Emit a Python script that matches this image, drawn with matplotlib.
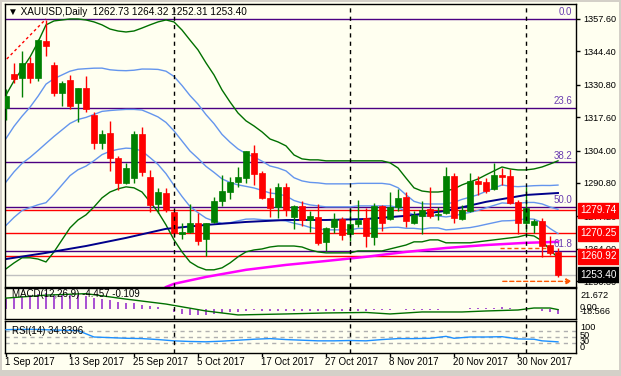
import numpy as np
import matplotlib.pyplot as plt
from matplotlib.patches import Rectangle

plt.rcParams['font.family'] = ['Liberation Sans', 'DejaVu Sans']

# daily XAUUSD bars, 1 Sep 2017 .. 7 Dec 2017
opens = [1321.3, 1335.2, 1333.6, 1339.7, 1333.6, 1348.6, 1338.9, 1327.5, 1332.7, 1323.4,
         1329.5, 1318.5, 1307.1, 1311.2, 1301.0, 1290.8, 1292.8, 1310.8, 1293.2, 1282.2,
         1286.7, 1279.0, 1270.0, 1270.8, 1274.5, 1268.0, 1274.9, 1283.5, 1287.1, 1291.2,
         1292.8, 1303.0, 1294.9, 1284.7, 1281.0, 1289.2, 1277.0, 1281.4, 1275.7, 1277.0,
         1266.8, 1272.9, 1276.1, 1270.0, 1274.1, 1276.5, 1268.8, 1281.4, 1276.1, 1281.0,
         1285.1, 1274.5, 1277.4, 1280.2, 1277.8, 1278.6, 1293.6, 1276.1, 1279.4, 1291.6,
         1291.2, 1288.4, 1294.1, 1293.6, 1283.1, 1274.5, 1273.7, 1275.3, 1265.5, 1262.73]
highs = [1329.1, 1339.7, 1344.6, 1342.1, 1349.5, 1357.2, 1340.1, 1332.3, 1334.8, 1329.5,
         1334.4, 1319.7, 1312.4, 1316.1, 1301.8, 1298.9, 1312.0, 1313.6, 1296.1, 1288.8,
         1288.8, 1279.0, 1274.5, 1282.2, 1278.6, 1274.5, 1285.1, 1294.1, 1293.2, 1297.3,
         1304.0, 1306.3, 1295.7, 1288.8, 1290.8, 1290.8, 1281.8, 1283.5, 1279.4, 1282.2,
         1272.9, 1278.6, 1277.0, 1280.6, 1283.9, 1280.6, 1282.6, 1281.8, 1287.1, 1288.4,
         1287.1, 1279.4, 1283.5, 1289.2, 1281.0, 1297.3, 1294.9, 1281.8, 1294.9, 1293.6,
         1292.8, 1298.9, 1296.9, 1296.5, 1283.9, 1289.2, 1276.1, 1276.5, 1269.2, 1264.32]
lows = [1316.5, 1331.5, 1325.8, 1331.5, 1332.3, 1342.5, 1326.2, 1322.2, 1320.9, 1315.6,
        1319.7, 1304.6, 1304.6, 1295.7, 1288.0, 1290.4, 1290.8, 1293.6, 1279.0, 1278.6,
        1279.0, 1268.8, 1268.0, 1270.4, 1265.5, 1260.9, 1274.5, 1281.4, 1284.3, 1289.2,
        1290.8, 1290.0, 1284.3, 1276.9, 1276.5, 1277.4, 1272.1, 1273.3, 1270.8, 1265.5,
        1263.1, 1270.4, 1267.6, 1267.2, 1272.9, 1264.7, 1265.5, 1271.2, 1275.7, 1279.4,
        1272.9, 1274.1, 1270.0, 1276.5, 1275.7, 1278.2, 1274.5, 1275.7, 1279.0, 1285.9,
        1286.7, 1288.0, 1290.0, 1282.2, 1270.0, 1270.8, 1270.4, 1260.7, 1261.5, 1252.31]
closes = [1326.2, 1333.2, 1339.7, 1333.6, 1349.0, 1346.6, 1327.5, 1331.5, 1322.2, 1329.5,
          1320.9, 1307.1, 1310.8, 1301.0, 1290.8, 1296.9, 1310.8, 1295.3, 1281.8, 1287.1,
          1279.8, 1270.4, 1270.8, 1274.5, 1267.2, 1274.5, 1283.5, 1287.5, 1291.2, 1293.2,
          1303.8, 1294.5, 1284.7, 1280.6, 1289.2, 1279.8, 1281.4, 1275.7, 1277.4, 1266.4,
          1272.5, 1276.1, 1269.6, 1274.1, 1275.7, 1269.2, 1281.4, 1274.5, 1281.0, 1284.7,
          1275.3, 1277.8, 1279.8, 1277.4, 1278.2, 1293.6, 1276.5, 1279.8, 1291.6, 1290.4,
          1287.5, 1294.1, 1293.2, 1282.6, 1274.5, 1280.6, 1275.3, 1265.1, 1262.3, 1253.40]

# Bollinger(20, 2) outer bands
bb_upper = [1326.6, 1332.4, 1337.2, 1342.1, 1348.2, 1355.2, 1356.8, 1357.2, 1357.6, 1357.6,
            1357.2, 1356.4, 1355.2, 1353.5, 1352.7, 1352.3, 1352.7, 1353.9, 1355.2, 1356.4,
            1357.2, 1356.4, 1353.1, 1349.0, 1345.0, 1339.7, 1334.8, 1328.7, 1323.8, 1319.3,
            1316.1, 1314.0, 1311.6, 1308.7, 1307.5, 1305.9, 1302.2, 1300.6, 1300.2, 1300.2,
            1299.8, 1299.8, 1299.8, 1299.8, 1299.8, 1299.8, 1299.8, 1299.8, 1299.0, 1296.9,
            1292.8, 1288.8, 1287.5, 1287.1, 1287.1, 1287.5, 1288.4, 1290.0, 1291.2, 1292.4,
            1294.1, 1295.7, 1297.3, 1296.5, 1296.1, 1296.1, 1296.5, 1297.3, 1298.5, 1299.8]
bb_lower = [1255.8, 1258.2, 1260.3, 1260.3, 1259.8, 1258.6, 1262.7, 1267.6, 1272.5, 1275.7,
            1277.8, 1281.0, 1284.7, 1287.1, 1288.4, 1289.2, 1288.8, 1287.1, 1283.1, 1279.0,
            1273.7, 1267.6, 1262.7, 1258.6, 1256.6, 1255.4, 1255.4, 1256.2, 1258.2, 1260.7,
            1262.7, 1263.5, 1263.9, 1264.7, 1265.1, 1265.1, 1265.1, 1264.7, 1263.5, 1262.7,
            1262.3, 1262.3, 1262.3, 1262.3, 1263.1, 1263.1, 1263.1, 1263.1, 1263.9, 1264.7,
            1265.5, 1266.8, 1266.8, 1267.6, 1267.6, 1266.4, 1266.4, 1266.4, 1266.4, 1266.8,
            1267.2, 1267.6, 1268.0, 1268.4, 1268.8, 1269.6, 1269.2, 1267.2, 1263.5, 1260.3]

# moving averages (sampled bars)
ma50_idx = [0, 5, 10, 15, 20, 25, 30, 35, 40, 45, 50, 55, 60, 65, 69]
ma50_val = [1259.8, 1262.3, 1265.1, 1268.4, 1272.1, 1273.7, 1274.9, 1275.7, 1275.7,
            1276.1, 1277.4, 1279.4, 1283.1, 1285.9, 1286.7]
ma200_idx = [20, 21, 25, 30, 35, 40, 45, 50, 55, 60, 65, 69]
ma200_val = [1248.4, 1249.7, 1252.5, 1255.4, 1257.4, 1259.0, 1260.7, 1262.7, 1264.3,
             1265.5, 1266.4, 1266.8]

fib_levels = ['0.0', '23.6', '38.2', '50.0', '61.8']
fib_ratios = [0.0, 0.236, 0.382, 0.5, 0.618]
fib_high, fib_low = 1357.6, 1204.7
fib_high_bar, fib_low_bar = 5, -41

red_levels = [1279.74, 1270.25, 1260.92]
bid = 1253.40

# MACD(12,26,9)
macd_main = [12, 13, 14, 15, 16, 17, 16, 16, 15, 15,
             14, 12, 11, 9.5, 7.5, 6.5, 6.5, 5, 3.5, 2.5,
             1, -3, -4.5, -5.5, -6, -6, -5, -4, -3, -2.5,
             -1.5, -1, -1.5, -2, -1.5, -1.5, -1.5, -1.5, -1.5, -2,
             -2, -2, -2, -1.8, -1.5, -1.5, -1, -1, -0.5, 0,
             -0.5, -0.5, -0.3, -0.2, -0.2, 0.8, 0.5, 0.5, 1.2, 1.5,
             1.6, 2, 2.2, 1.5, 0.8, 0.7, 0.2, -1.5, -2.8, -4.457]
sig_idx = [0, 5, 10, 15, 20, 25, 29, 35, 40, 45, 48, 52, 57, 60, 64, 66, 68, 69]
sig_val = [11.5, 14.5, 16, 10.5, 5.5, -1.5, -5.5, -4.5, -3.5, -3.0, -4.5, -2.5, -2.5,
           -1.5, -0.5, 1.5, 1.5, -0.109]

# RSI(14)
rsi_idx = [0, 3, 6, 9, 10, 11, 13, 15, 17, 19, 21, 23, 25, 27, 29, 31, 33, 35, 37, 39,
           41, 43, 45, 47, 49, 51, 53, 55, 56, 58, 60, 62, 64, 66, 67, 69]
rsi_val = [73, 74, 72, 70, 60, 50, 48, 46, 45, 42, 38, 36, 35, 37, 40, 43, 45, 42, 40, 38,
           38, 39, 38, 42, 45, 45, 46, 52, 46, 50, 50, 51, 44, 43, 38, 34.84]

date_idx = [0, 8, 16, 24, 32, 40, 48, 56, 64]
date_lbl = ['1 Sep 2017', '13 Sep 2017', '25 Sep 2017', '5 Oct 2017', '17 Oct 2017',
            '27 Oct 2017', '8 Nov 2017', '20 Nov 2017', '30 Nov 2017']
sep_idx = [21, 43, 65]
price_ticks = [1357.60, 1344.40, 1330.80, 1317.60, 1304.00, 1290.80, 1277.20, 1264.00, 1250.80]

W, H = 621, 376
BG = '#FFFFF0'
FS = 6.6
fig = plt.figure(figsize=(W / 100, H / 100), dpi=100)
fig.patch.set_facecolor(BG)


def box(l, t, r, b):
    return [l / W, 1 - b / H, (r - l) / W, (b - t) / H]


def fy(py):
    return 1 - py / H


ax = fig.add_axes(box(5, 4, 576, 287))
axm = fig.add_axes(box(5, 288, 576, 319))
axr = fig.add_axes(box(5, 321, 576, 353))
for a in (ax, axm, axr):
    a.set_facecolor(BG)
    a.set_xlim(-0.125, 71.25)
    a.set_xticks([])
    for s in a.spines.values():
        s.set_color('black')
        s.set_linewidth(1)
    for i in sep_idx:
        a.axvline(i, color='black', lw=1, ls=(0, (3, 3)), zorder=6)

x = np.arange(len(closes))
o, h, l, c = map(np.array, (opens, highs, lows, closes))

# main panel
ax.set_ylim(1248.4, 1363.7)
ax.yaxis.tick_right()
ax.set_yticks(price_ticks)
ax.set_yticklabels(['%.2f' % p for p in price_ticks])
ax.tick_params(axis='y', length=3, width=1, labelsize=FS, pad=2, colors='black')

up = np.array(bb_upper)
lo = np.array(bb_lower)
mid = (up + lo) / 2
sd = (up - lo) / 4
ax.plot(x, up, color='#007000', lw=1, zorder=2)
ax.plot(x, lo, color='#007000', lw=1, zorder=2)
for line in (mid + sd, mid, mid - sd):
    ax.plot(x, line, color='#6495ED', lw=1, zorder=2)
ax.plot(ma50_idx, ma50_val, color='#00008B', lw=1.4, zorder=2)
ax.plot(ma200_idx, ma200_val, color='#FF00FF', lw=1.8, zorder=2)

for name, r in zip(fib_levels, fib_ratios):
    lvl = fib_high - r * (fib_high - fib_low)
    ax.axhline(lvl, color='#4B0082', lw=1, zorder=1)
    ax.text(70.8, lvl + 0.6, name, color='#6A3DB0', fontsize=FS + 0.4, ha='right', va='bottom', zorder=7)
ax.plot([fib_low_bar, fib_high_bar], [fib_low, fib_high], color='red', lw=1, ls=(0, (2, 2)), zorder=2)

for lvl in red_levels:
    ax.axhline(lvl, color='red', lw=1, zorder=1)
ax.axhline(bid, color='#C0C0C0', lw=1, zorder=1)
ax.plot([61.75, 68.6], [1264.32, 1264.32], color='#FF5500', lw=1, ls=(0, (3, 2)), zorder=3)
ax.annotate('', xy=(71.1, 1250.7), xytext=(61.75, 1250.7),
            arrowprops=dict(arrowstyle='-|>', color='#FF5500', lw=1, ls=(0, (3, 2)), mutation_scale=8),
            zorder=3)

colors = np.where(c >= o, '#008000', '#FF0000')
ax.vlines(x, l, h, colors=colors, lw=1, zorder=4)
body = np.maximum(np.abs(c - o), 0.35)
ax.bar(x, body, bottom=np.minimum(o, c), width=0.7, color=colors, edgecolor=colors, lw=0.5, zorder=5)

for lvl, fc in [(v, '#FF0000') for v in red_levels] + [(bid, 'black')]:
    ax.annotate('%.2f' % lvl, xy=(1.0, lvl), xycoords=('axes fraction', 'data'),
                xytext=(4, 0), textcoords='offset pixels', ha='left', va='center',
                fontsize=FS + 0.6, color='white', annotation_clip=False,
                bbox=dict(boxstyle='square,pad=0.25', fc=fc, ec=fc))

ax.text(0.006, 0.99, '\u25bc XAUUSD,Daily  1262.73 1264.32 1252.31 1253.40',
        transform=ax.transAxes, fontsize=FS + 0.6, va='top', ha='left', zorder=8)

# MACD panel
axm.set_ylim(-9.6, 21.7)
axm.set_yticks([])
axm.vlines(x, 0, macd_main, color='#9932CC', lw=1.2, zorder=2)
axm.plot(sig_idx, sig_val, color='#007000', lw=1, zorder=3)
axm.text(0.012, 0.8, 'MACD(12,26,9) -4.457 -0.109', transform=axm.transAxes,
         fontsize=FS + 0.4, va='center', ha='left', zorder=4)
fig.text(580 / W, fy(295), '21.672', fontsize=FS, va='center', ha='left')
fig.text(580 / W, fy(308), '0.00', fontsize=FS, va='center', ha='left')
fig.text(580 / W, fy(312), '-18.566', fontsize=FS, va='center', ha='left')

# RSI panel
axr.set_ylim(0, 100)
axr.set_yticks([])
for lvl in (70, 50, 30):
    axr.axhline(lvl, color='#B0B0B0', lw=1, ls=(0, (3, 3)), zorder=1)
axr.plot(rsi_idx, rsi_val, color='#1E90FF', lw=1, zorder=3)
axr.text(0.012, 0.68, 'RSI(14) 34.8396', transform=axr.transAxes,
         fontsize=FS + 0.4, va='center', ha='left', zorder=4)
for txt, py in (('100', 327), ('50', 335), ('30', 341), ('0', 347)):
    fig.text(580 / W, fy(py), txt, fontsize=FS, va='center', ha='left')

# date axis
for i, lbl in zip(date_idx, date_lbl):
    axr.plot([i, i], [-2, -8], color='black', lw=1, clip_on=False)
    axr.text(i - 0.1, -13, lbl, fontsize=FS + 0.4, ha='left', va='top', clip_on=False)

# window frame
fig.patches.append(Rectangle((0, 0), 1, 6 / H, transform=fig.transFigure, fc='#D4D0C8', ec='none'))
fig.patches.append(Rectangle((0, 1 - 2 / H), 1, 2 / H, transform=fig.transFigure, fc='#D4D0C8', ec='none'))
fig.patches.append(Rectangle((0, 0), 2 / W, 1, transform=fig.transFigure, fc='#D4D0C8', ec='none'))
fig.patches.append(Rectangle((1 - 2 / W, 0), 2 / W, 1, transform=fig.transFigure, fc='#D4D0C8', ec='none'))

fig.savefig('out.png', dpi=100, facecolor=fig.get_facecolor())
